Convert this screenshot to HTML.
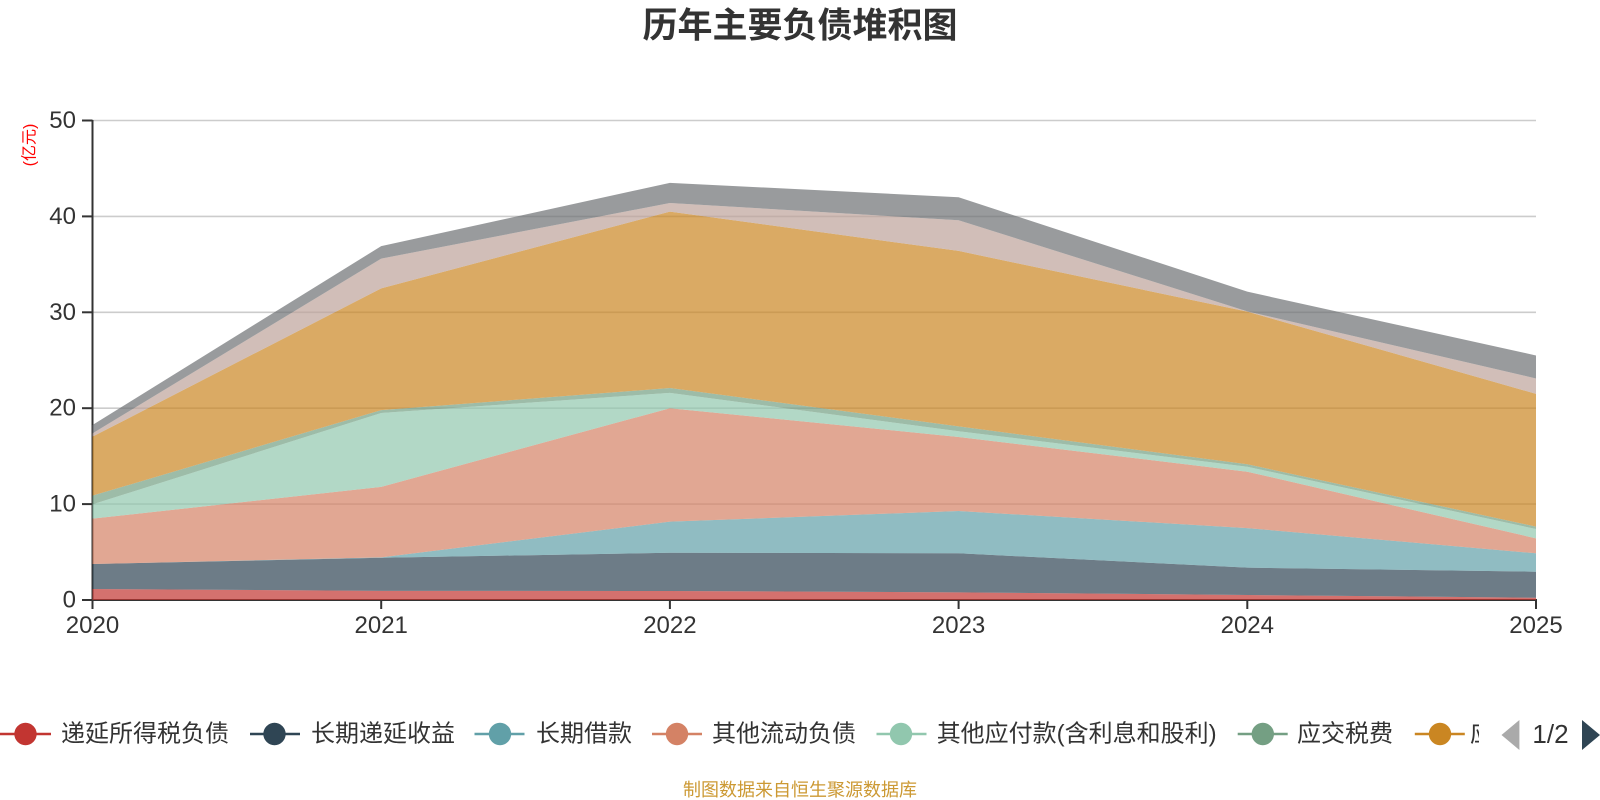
<!DOCTYPE html>
<html>
<head>
<meta charset="utf-8">
<style>
html,body{margin:0;padding:0;background:#fff;}
svg{display:block;}
text{font-family:"Liberation Sans","Noto Sans CJK SC",sans-serif;}
</style>
</head>
<body>
<svg width="1600" height="800" viewBox="0 0 1600 800" xmlns="http://www.w3.org/2000/svg">
<defs>
<clipPath id="legclip"><rect x="0" y="700" width="1479" height="70"/></clipPath>
</defs>
<rect width="1600" height="800" fill="#fff"/>

<!-- title -->
<text x="800" y="26" text-anchor="middle" dominant-baseline="central" font-size="35" font-weight="bold" fill="#333">历年主要负债堆积图</text>

<!-- y axis name -->
<text x="0" y="0" transform="translate(30,145) rotate(-90)" text-anchor="middle" dominant-baseline="central" font-size="16" fill="#ff0000">(亿元)</text>

<!-- grid lines -->
<g stroke="#cccccc" stroke-width="1.6">
<line x1="92.5" y1="504.1" x2="1536" y2="504.1"/>
<line x1="92.5" y1="408.2" x2="1536" y2="408.2"/>
<line x1="92.5" y1="312.3" x2="1536" y2="312.3"/>
<line x1="92.5" y1="216.4" x2="1536" y2="216.4"/>
<line x1="92.5" y1="120.5" x2="1536" y2="120.5"/>
</g>

<!-- axes -->
<g stroke="#333" stroke-width="2">
<line x1="92.5" y1="120" x2="92.5" y2="601"/>
<line x1="92" y1="600" x2="1537" y2="600"/>
<line x1="82" y1="600" x2="92.5" y2="600"/>
<line x1="82" y1="504.1" x2="92.5" y2="504.1"/>
<line x1="82" y1="408.2" x2="92.5" y2="408.2"/>
<line x1="82" y1="312.3" x2="92.5" y2="312.3"/>
<line x1="82" y1="216.4" x2="92.5" y2="216.4"/>
<line x1="82" y1="120.5" x2="92.5" y2="120.5"/>
<line x1="92.5" y1="600" x2="92.5" y2="609"/>
<line x1="381.2" y1="600" x2="381.2" y2="609"/>
<line x1="669.9" y1="600" x2="669.9" y2="609"/>
<line x1="958.6" y1="600" x2="958.6" y2="609"/>
<line x1="1247.3" y1="600" x2="1247.3" y2="609"/>
<line x1="1536" y1="600" x2="1536" y2="609"/>
</g>

<!-- stacked areas -->
<g fill-opacity="0.7" stroke="none">
<polygon fill="#c23531" points="92.5,588.97 381.2,590.89 669.9,590.99 958.6,592.33 1247.3,595.01 1536,597.70 1536,600 92.5,600"/>
<polygon fill="#2f4554" points="92.5,564.04 381.2,557.80 669.9,552.72 958.6,553.30 1247.3,567.68 1536,571.71 1536,597.70 1247.3,595.01 958.6,592.33 669.9,590.99 381.2,590.89 92.5,588.97"/>
<polygon fill="#61a0a8" points="92.5,564.04 381.2,557.32 669.9,521.65 958.6,511.0 1247.3,528.1 1536,553.30 1536,571.71 1247.3,567.68 958.6,553.30 669.9,552.72 381.2,557.80 92.5,564.04"/>
<polygon fill="#d48265" points="92.5,518.68 381.2,486.84 669.9,408.2 958.6,436.97 1247.3,471.69 1536,538.34 1536,553.30 1247.3,528.1 958.6,511.0 669.9,521.65 381.2,557.32 92.5,564.04"/>
<polygon fill="#91c7ae" points="92.5,504.39 381.2,412.99 669.9,392.86 958.6,431.22 1247.3,466.70 1536,529.03 1536,538.34 1247.3,471.69 958.6,436.97 669.9,408.2 381.2,486.84 92.5,518.68"/>
<polygon fill="#749f83" points="92.5,495.66 381.2,410.12 669.9,388.06 958.6,426.42 1247.3,464.30 1536,526.64 1536,529.03 1247.3,466.70 958.6,431.22 669.9,392.86 381.2,412.99 92.5,504.39"/>
<polygon fill="#ca8622" points="92.5,436.68 381.2,288.33 669.9,211.61 958.6,250.92 1247.3,311.63 1536,393.82 1536,526.64 1247.3,464.30 958.6,426.42 669.9,388.06 381.2,410.12 92.5,495.66"/>
<polygon fill="#bda29a" points="92.5,433.33 381.2,258.60 669.9,202.97 958.6,220.24 1247.3,311.34 1536,378.47 1536,393.82 1247.3,311.63 958.6,250.92 669.9,211.61 381.2,288.33 92.5,436.68"/>
<polygon fill="#6e7074" points="92.5,424.98 381.2,246.13 669.9,182.84 958.6,197.22 1247.3,291.68 1536,355.46 1536,378.47 1247.3,311.34 958.6,220.24 669.9,202.97 381.2,258.60 92.5,433.33"/>
</g>

<!-- y labels -->
<g font-size="24" fill="#333" text-anchor="end" dominant-baseline="central">
<text x="76" y="600">0</text>
<text x="76" y="504.1">10</text>
<text x="76" y="408.2">20</text>
<text x="76" y="312.3">30</text>
<text x="76" y="216.4">40</text>
<text x="76" y="120.5">50</text>
</g>

<!-- x labels -->
<g font-size="24" fill="#333" text-anchor="middle">
<text x="92.5" y="633">2020</text>
<text x="381.2" y="633">2021</text>
<text x="669.9" y="633">2022</text>
<text x="958.6" y="633">2023</text>
<text x="1247.3" y="633">2024</text>
<text x="1536" y="633">2025</text>
</g>

<!-- legend -->
<g clip-path="url(#legclip)" font-size="24" fill="#333" dominant-baseline="central">
<line x1="0" y1="734" x2="51" y2="734" stroke="#c23531" stroke-width="2.5"/>
<circle cx="25.5" cy="734" r="11.2" fill="#c23531"/>
<text x="61" y="734">递延所得税负债</text>

<line x1="250" y1="734" x2="300" y2="734" stroke="#2f4554" stroke-width="2.5"/>
<circle cx="274.5" cy="734" r="11.2" fill="#2f4554"/>
<text x="311" y="734">长期递延收益</text>

<line x1="474.5" y1="734" x2="524.5" y2="734" stroke="#61a0a8" stroke-width="2.5"/>
<circle cx="500" cy="734" r="11.2" fill="#61a0a8"/>
<text x="536" y="734">长期借款</text>

<line x1="652" y1="734" x2="702" y2="734" stroke="#d48265" stroke-width="2.5"/>
<circle cx="677" cy="734" r="11.2" fill="#d48265"/>
<text x="712" y="734">其他流动负债</text>

<line x1="876.5" y1="734" x2="926.5" y2="734" stroke="#91c7ae" stroke-width="2.5"/>
<circle cx="901" cy="734" r="11.2" fill="#91c7ae"/>
<text x="936.7" y="734">其他应付款(含利息和股利)</text>

<line x1="1237.7" y1="734" x2="1287.7" y2="734" stroke="#749f83" stroke-width="2.5"/>
<circle cx="1262.8" cy="734" r="11.2" fill="#749f83"/>
<text x="1297" y="734">应交税费</text>

<line x1="1414.8" y1="734" x2="1464.8" y2="734" stroke="#ca8622" stroke-width="2.5"/>
<circle cx="1440" cy="734" r="11.2" fill="#ca8622"/>
<text x="1470" y="734">应付账款</text>
</g>

<!-- pager -->
<polygon points="1501.5,735 1519.4,720 1519.4,750" fill="#aaaaaa"/>
<text x="1550.5" y="734" font-size="26" fill="#333" text-anchor="middle" dominant-baseline="central">1/2</text>
<polygon points="1600,735 1582,720 1582,750" fill="#2f4554"/>

<!-- footer -->
<text x="800" y="790" font-size="18" fill="#cc9933" text-anchor="middle" dominant-baseline="central">制图数据来自恒生聚源数据库</text>
</svg>
</body>
</html>
